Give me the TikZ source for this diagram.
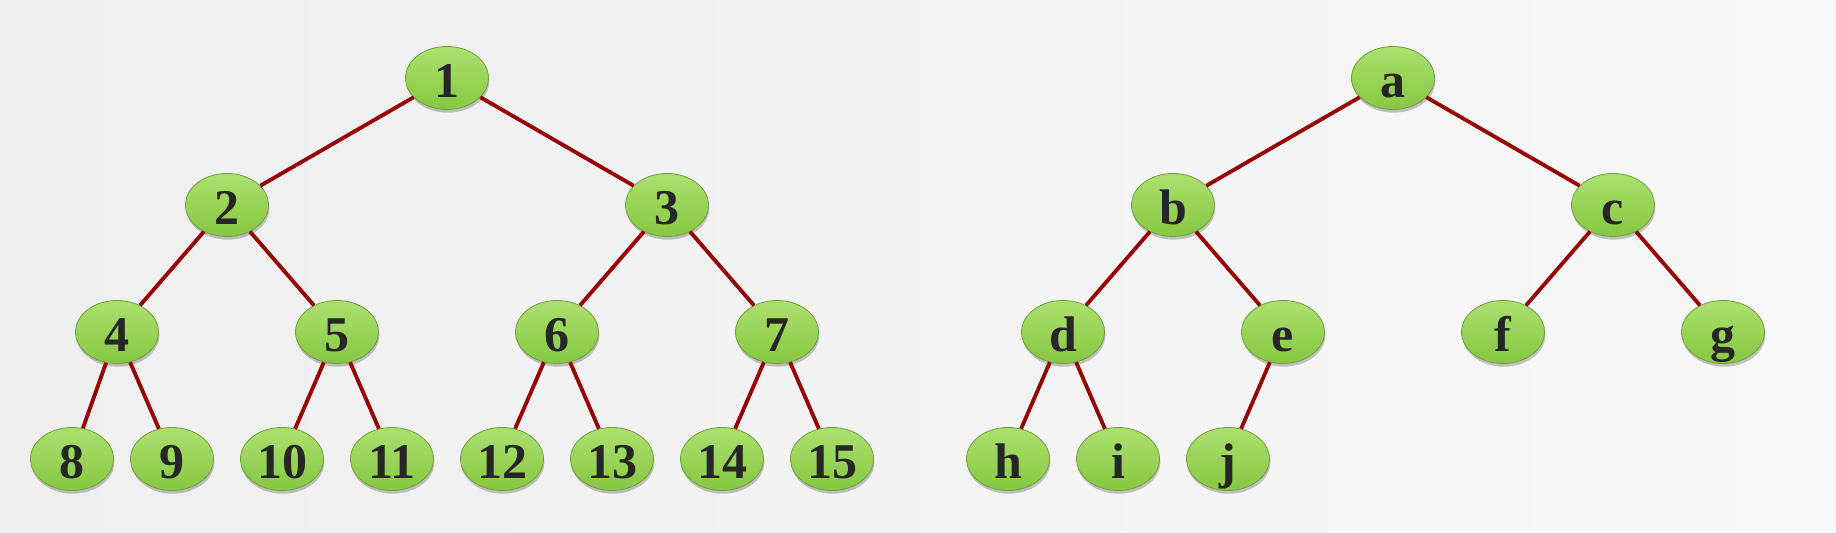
\documentclass[tikz,border=0pt]{standalone}
\usepackage{fontspec}
\setmainfont{Liberation Serif}
\usepackage{tikz}
\usepackage{xcolor}
\usetikzlibrary{trees, shapes.geometric, shadows}
\definecolor{bgleft}{RGB}{239, 239, 239}
\definecolor{bgright}{RGB}{248, 248, 248}
\definecolor{leaftop}{RGB}{172, 224, 110}
\definecolor{leafmid}{RGB}{156, 215, 90}
\definecolor{leafbottom}{RGB}{134, 200, 66}
\definecolor{leafrim}{RGB}{112, 160, 62}
\definecolor{branchred}{RGB}{150, 0, 0}
\definecolor{labelgray}{RGB}{38, 38, 38}
\tikzset{
    treenode/.style={ellipse, draw=leafrim, line width=0.4pt,
        top color=leaftop, middle color=leafmid, bottom color=leafbottom,
        minimum width=41.5pt, minimum height=31.5pt, inner sep=0pt,
        text height=20pt, text depth=0pt, text=labelgray,
        font=\fontsize{25}{25}\selectfont\bfseries,
        drop shadow={shadow xshift=0.4pt, shadow yshift=-1.6pt, opacity=0.22, fill=black}},
    branch/.style={draw=branchred, line width=1.9pt},
    bintree/.style={level distance=63.5pt, edge from parent/.style={branch},
        level 1/.style={sibling distance=220pt},
        level 2/.style={sibling distance=110pt},
        level 3/.style={sibling distance=55pt}}
}
\begin{document}
\begin{tikzpicture}
        \fill[left color=bgleft, right color=bgright] (0,0) rectangle (918pt,266.5pt);
        \useasboundingbox (0,0) rectangle (918pt,266.5pt);
        % full tree with numbers
        \node[treenode] (n1) at (223.5pt,227.5pt) {1}
            [bintree]
            child {node[treenode] (n2) {2}
                child {node[treenode] (n4) {4}
                    child {node[treenode, xshift=5pt] (n8) {8}}
                    child {node[treenode] (n9) {9}}
                }
                child {node[treenode] (n5) {5}
                    child {node[treenode] (n10) {10}}
                    child {node[treenode] (n11) {11}}
                }
            }
            child {node[treenode] (n3) {3}
                child {node[treenode] (n6) {6}
                    child {node[treenode] (n12) {12}}
                    child {node[treenode] (n13) {13}}
                }
                child {node[treenode] (n7) {7}
                    child {node[treenode] (n14) {14}}
                    child {node[treenode] (n15) {15}}
                }
            };
        % tree with letters
        \node[treenode] (na) at (696.5pt,227.5pt) {a}
            [bintree]
            child {node[treenode] (nb) {b}
                child {node[treenode] (nd) {d}
                    child {node[treenode] (nh) {h}}
                    child {node[treenode] (ni) {i}}
                }
                child {node[treenode] (ne) {e}
                    child {node[treenode] (nj) {j}}
                    child[missing]
                }
            }
            child {node[treenode] (nc) {c}
                child {node[treenode] (nf) {f}}
                child {node[treenode] (ng) {g}}
            };
\end{tikzpicture}
\end{document}
